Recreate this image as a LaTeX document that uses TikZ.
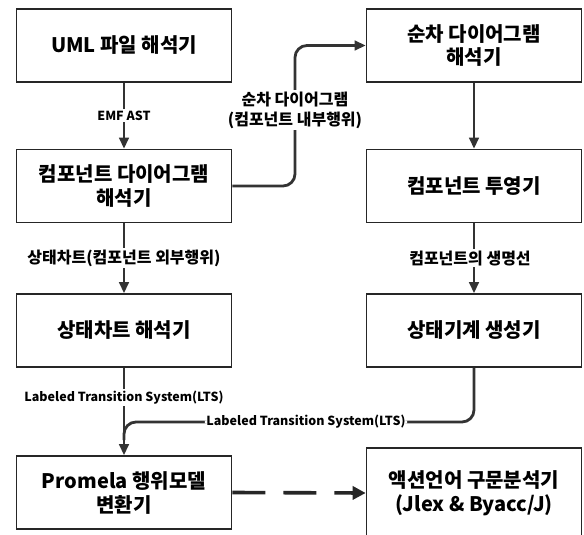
\documentclass[tikz,border=0pt]{standalone}
\usepackage{fontspec}
\setmainfont{Noto Sans CJK KR}
\usetikzlibrary{arrows.meta}
\begin{document}
\begin{tikzpicture}[x=1pt,y=-1pt,
  box/.style={draw=black!85, line width=1.6pt, minimum width=215pt, minimum height=73pt,
    align=center, inner sep=0pt, font=\fontsize{20}{24}\selectfont\bfseries},
  conn/.style={draw=black!80, line width=2.8pt, -{Triangle[length=11pt,width=9.5pt]}},
  plain/.style={draw=black!80, line width=2.8pt},
  lbl/.style={fill=white, inner sep=1.5pt, align=center, text=black,
    font=\fontsize{16}{20}\selectfont\bfseries},
  lbllat/.style={lbl, font=\fontsize{12.5}{16}\selectfont\bfseries},
  dashconn/.style={draw=black!85, line width=3.6pt, dash pattern=on 33pt off 18pt,
    -{Triangle[length=13pt,width=13pt]}}]
\useasboundingbox[fill=white] (0,0) rectangle (584,535);

% left column
\node[box] (l1) at (124,45.5) {UML 파일 해석기};
\node[box] (l2) at (124,186) {컴포넌트 다이어그램\\해석기};
\node[box] (l3) at (124,330.5) {상태차트 해석기};
\node[box] (l4) at (124,492.5) {Promela 행위모델\\변환기};
% right column
\node[box] (r1) at (474,45.5) {순차 다이어그램\\해석기};
\node[box] (r2) at (474,186) {컴포넌트 투영기};
\node[box] (r3) at (474,330.5) {상태기계 생성기};
\node[box, minimum height=90pt] (r4) at (474,493) {액션언어 구문분석기\\(Jlex \& Byacc/J)};

\coordinate (seqx) at (295,116);
\coordinate (bend) at (124,422);
\coordinate (join) at (124,440);

% connectors
\draw[conn] (l1) -- node[lbllat]{EMF AST} (l2);
\draw[conn] (l2) -- node[lbl]{상태차트(컴포넌트 외부행위)} (l3);
\draw[conn] (l3) -- node[lbllat, pos=0.34]{Labeled Transition System(LTS)} (l4);
\draw[conn] (r1) -- (r2);
\draw[conn] (r2) -- node[lbl, xshift=-4pt]{컴포넌트의 생명선} (r3);
\draw[conn, rounded corners=12pt] (l2.east) -| (seqx) |- (r1.west);
\node[lbl] (seqlbl) at (295,110) {순차 다이어그램\\(컴포넌트 내부행위)};
\draw[plain, rounded corners=12pt] (r3.south) |- node[lbllat, pos=0.74]{Labeled Transition System(LTS)} (bend) -- (join);
\draw[dashconn] (l4.east) -- (r4.west);
\end{tikzpicture}
\end{document}
